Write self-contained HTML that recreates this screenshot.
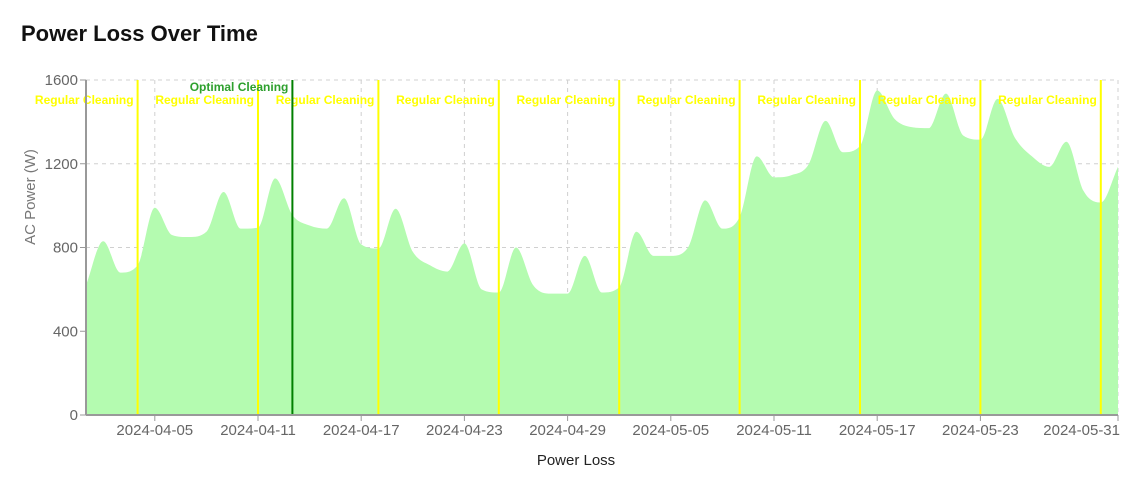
<!DOCTYPE html>
<html><head><meta charset="utf-8"><style>
body{margin:0;background:#fff;font-family:"Liberation Sans",sans-serif;}
svg text{font-family:"Liberation Sans",sans-serif;}
</style></head><body>
<svg id="chart" width="1144" height="495" xmlns="http://www.w3.org/2000/svg">
<text x="21" y="41" font-size="22" font-weight="bold" fill="#111">Power Loss Over Time</text>
<g id="grid"></g><g id="area"></g><g id="marks"></g><g id="axes"></g>
<text x="576" y="465" font-size="15" fill="#222" text-anchor="middle">Power Loss</text>
<text transform="translate(35,197) rotate(-90)" font-size="15" fill="#777" text-anchor="middle">AC Power (W)</text>
</svg>
<script>
const values=[620,830,680,715,990,860,850,875,1065,890,895,1130,955,905,890,1035,815,795,985,780,715,685,820,600,585,800,620,580,580,760,585,610,875,760,760,800,1025,890,945,1235,1135,1145,1195,1405,1255,1285,1550,1415,1375,1370,1535,1335,1315,1510,1325,1235,1185,1305,1070,1015,1185];
const yTicks=[0,400,800,1200,1600];
const xTickDays=[4,10,16,22,28,34,40,46,52,60];
const xTickLabels=["2024-04-05","2024-04-11","2024-04-17","2024-04-23","2024-04-29","2024-05-05","2024-05-11","2024-05-17","2024-05-23","2024-05-31"];
const regularDays=[3,10,17,24,31,38,45,52,59];
const optimalDays=[12];
const NS="http://www.w3.org/2000/svg";
const X0=86,X1=1118,Y0=415,Y1=80,DAYS=60,YMAX=1600;
const xs=d=>X0+(X1-X0)*d/DAYS;
const ys=v=>Y0-(Y0-Y1)*v/YMAX;
function mk(tag,attrs,parent){const e=document.createElementNS(NS,tag);for(const k in attrs)e.setAttribute(k,attrs[k]);document.getElementById(parent).appendChild(e);return e;}
// grid
yTicks.forEach(v=>{if(v>0){const l=mk('line',{x1:X0,x2:X1,y1:ys(v),y2:ys(v),stroke:'#d0d0d0','stroke-dasharray':'4,4'},'grid');

}});
xTickDays.forEach(d=>{const l=mk('line',{x1:xs(d),x2:xs(d),y1:Y1,y2:Y0,stroke:'#d0d0d0','stroke-dasharray':'4,4'},'grid');

});
// monotone cubic area
const n=values.length,px=values.map((v,i)=>xs(i)),py=values.map(v=>ys(v));
const dl=[],m=[];for(let i=0;i<n-1;i++)dl.push((py[i+1]-py[i])/(px[i+1]-px[i]));
m[0]=dl[0];m[n-1]=dl[n-2];
for(let i=1;i<n-1;i++){if(dl[i-1]*dl[i]<=0)m[i]=0;else{const h0=px[i]-px[i-1],h1=px[i+1]-px[i];m[i]=(dl[i-1]*h1+dl[i]*h0)/(h0+h1);const lim=3*Math.min(Math.abs(dl[i-1]),Math.abs(dl[i]));if(Math.abs(m[i])>lim)m[i]=Math.sign(m[i])*lim;}}
let d=`M${px[0]},${Y0}L${px[0]},${py[0]}`;
for(let i=0;i<n-1;i++){const h=(px[i+1]-px[i])/3;d+=`C${px[i]+h},${py[i]+m[i]*h} ${px[i+1]-h},${py[i+1]-m[i+1]*h} ${px[i+1]},${py[i+1]}`;}
d+=`L${px[n-1]},${Y0}Z`;
const a=mk('path',{d:d,fill:'#b4fbb0'},'area');


// cleaning lines
regularDays.forEach(dd=>{const l=mk('line',{x1:xs(dd),x2:xs(dd),y1:Y1,y2:Y0,stroke:'#ffff00','stroke-width':2},'marks');


const t=mk('text',{x:xs(dd)-4,y:104,'font-size':12,'font-weight':'bold',fill:'#ffff00','text-anchor':'end'},'marks');t.textContent='Regular Cleaning';

});
optimalDays.forEach(dd=>{const l=mk('line',{x1:xs(dd),x2:xs(dd),y1:Y1,y2:Y0,stroke:'#008000','stroke-width':2},'marks');


const t=mk('text',{x:xs(dd)-4,y:91,'font-size':12,'font-weight':'bold',fill:'#2ea02e','text-anchor':'end'},'marks');t.textContent='Optimal Cleaning';

});
// axes
let l=mk('line',{x1:X0,x2:X0,y1:Y1,y2:Y0,stroke:'#999','stroke-width':2},'axes');


l=mk('line',{x1:X0,x2:X1,y1:Y0,y2:Y0,stroke:'#999','stroke-width':2},'axes');


yTicks.forEach(v=>{const k=mk('line',{x1:X0-6,x2:X0,y1:ys(v),y2:ys(v),stroke:'#999'},'axes');


const t=mk('text',{x:X0-8,y:ys(v)+5,'font-size':15,fill:'#666','text-anchor':'end'},'axes');t.textContent=v;

});
xTickDays.forEach((dd,i)=>{const k=mk('line',{x1:xs(dd),x2:xs(dd),y1:Y0,y2:Y0+6,stroke:'#999'},'axes');


const last=i===xTickDays.length-1;
const t=mk('text',{x:last?xs(dd)+2:xs(dd),y:Y0+20,'font-size':15,fill:'#666','text-anchor':last?'end':'middle'},'axes');t.textContent=xTickLabels[i];

});
</script>
</body></html>
